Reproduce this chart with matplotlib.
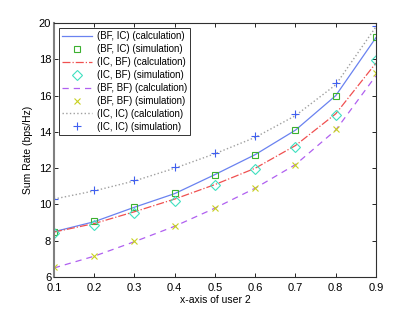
import matplotlib
matplotlib.use("Agg")
import matplotlib.pyplot as plt

plt.rcParams['font.family'] = ['Liberation Sans', 'DejaVu Sans']

x = [0.1, 0.2, 0.3, 0.4, 0.5, 0.6, 0.7, 0.8, 0.9]

bf_ic_calc = [8.50, 9.05, 9.85, 10.60, 11.65, 12.75, 14.10, 16.00, 19.20]
bf_ic_sim  = [8.50, 9.08, 9.87, 10.61, 11.64, 12.74, 14.10, 15.99, 19.21]
ic_bf_calc = [8.48, 8.95, 9.60, 10.30, 11.10, 12.00, 13.25, 15.00, 17.80]
ic_bf_sim  = [8.45, 8.86, 9.51, 10.20, 11.09, 11.97, 13.16, 14.93, 17.96]
bf_bf_calc = [6.50, 7.15, 7.95, 8.80, 9.80, 10.90, 12.20, 14.10, 17.10]
bf_bf_sim  = [6.53, 7.16, 8.00, 8.81, 9.80, 10.92, 12.15, 14.14, 17.26]
ic_ic_calc = [10.30, 10.75, 11.30, 12.00, 12.80, 13.70, 14.90, 16.60, 19.80]
ic_ic_sim  = [10.28, 10.79, 11.35, 12.08, 12.82, 13.77, 14.98, 16.68, 19.83]

labels = ["(BF, IC) (calculation)", "(BF, IC) (simulation)",
          "(IC, BF) (calculation)", "(IC, BF) (simulation)",
          "(BF, BF) (calculation)", "(BF, BF) (simulation)",
          "(IC, IC) (calculation)", "(IC, IC) (simulation)"]

xticks = [0.1, 0.2, 0.3, 0.4, 0.5, 0.6, 0.7, 0.8, 0.9]
yticks = [6, 8, 10, 12, 14, 16, 18, 20]

fig = plt.figure(figsize=(4.15, 3.12), dpi=100)
ax = fig.add_axes([0.130, 0.112, 0.776, 0.814])

ax.plot(x, bf_ic_calc, '-', color='#6a82f0', lw=0.9, label=labels[0])
ax.plot(x, bf_ic_sim, 's', color='#3cb030', mfc='none', ms=5, mew=0.8, ls='none', label=labels[1])
ax.plot(x, ic_bf_calc, '-.', color='#f05050', lw=0.9, label=labels[2])
ax.plot(x, ic_bf_sim, 'D', color='#40e0c0', mfc='none', ms=5, mew=0.8, ls='none', label=labels[3])
ax.plot(x, bf_bf_calc, '--', color='#b060f0', lw=0.9, dashes=(5, 4), label=labels[4])
ax.plot(x, bf_bf_sim, 'x', color='#c8d020', ms=4, mew=0.8, ls='none', label=labels[5])
ax.plot(x, ic_ic_calc, ':', color='#a0a0a0', lw=1.0, label=labels[6])
ax.plot(x, ic_ic_sim, '+', color='#4060f0', ms=6, mew=0.8, ls='none', label=labels[7])

ax.set_xlim(0.1, 0.9)
ax.set_ylim(6, 20)
ax.set_xticks(xticks)
ax.set_yticks(yticks)
ax.set_xticklabels([str(v) for v in xticks])
ax.tick_params(direction='in', length=3, labelsize=8, top=True, right=True, width=0.6)
ax.tick_params(axis='x', pad=4)
ax.tick_params(axis='y', pad=2)
for s in ax.spines.values():
    s.set_color('#303030')
    s.set_linewidth(0.8)
ax.spines['left'].set_color('#808080')
ax.spines['left'].set_linewidth(1.5)
ax.set_xlabel("x-axis of user 2", fontsize=7.5, labelpad=2)
ax.set_ylabel("Sum Rate (bps/Hz)", fontsize=7.5, labelpad=4)

leg = ax.legend(loc='upper left', fontsize=7, frameon=True, fancybox=False,
                borderpad=0.3, labelspacing=0.3, handlelength=3.1, handletextpad=0.45,
                borderaxespad=0.55)
leg.get_frame().set_edgecolor('black')
leg.get_frame().set_linewidth(0.7)

fig.savefig("out.png", dpi=100)
